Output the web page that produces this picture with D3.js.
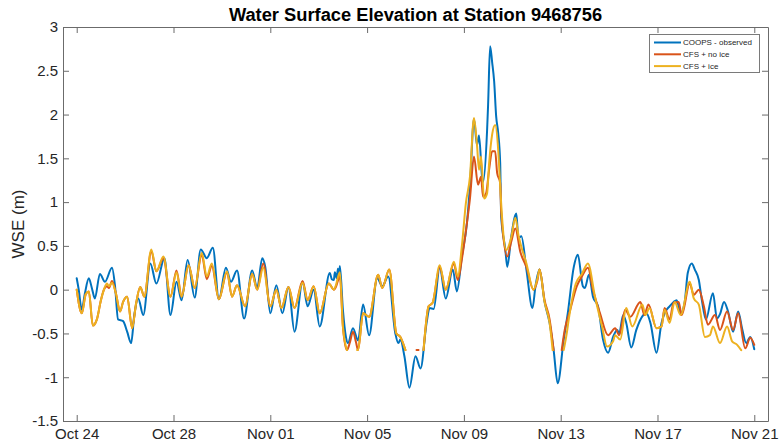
<!DOCTYPE html>
<html>
<head>
<meta charset="utf-8">
<script src="https://cdn.jsdelivr.net/npm/d3@7"></script>
<style>
  html, body { margin: 0; padding: 0; background: #fff; }
  svg { display: block; font-family: "Liberation Sans", Arial, Helvetica, sans-serif; }
</style>
</head>
<body>
<svg id="chart" width="781" height="446"></svg>
<script>
// ---- Data (hours since Oct 24 00:00, WSE in metres) ----
const baseDate = new Date(2019, 9, 24, 0, 0, 0);
const tickDates = ["Oct 24", "Oct 28", "Nov 01", "Nov 05", "Nov 09", "Nov 13", "Nov 17", "Nov 21"];
const tickDayOffsets = [0, 4, 8, 12, 16, 20, 24, 28];
const yTicks = [-1.5, -1, -0.5, 0, 0.5, 1, 1.5, 2, 2.5, 3];
const seriesNames = ["COOPS - observed", "CFS + no ice", "CFS + ice"];
const seriesColors = ["#0072BD", "#D95319", "#EDB120"];

const observed = [[0,0.13],[2,0.0],[5,-0.23],[8,-0.05],[12,0.13],[15,0.02],[18,-0.10],[23,0.18],[28,0.09],[35,0.25],
[38,0.04],[41,-0.34],[46,-0.36],[50,-0.48],[54,-0.61],[57,-0.30],[61,-0.10],[66,-0.29],[73,0.30],[79,0.07],
[87,0.36],[93,-0.29],[99,0.09],[104,-0.12],[110,0.34],[117,-0.09],[123,0.46],[129,0.36],[135,0.48],[141,-0.11],
[148,0.25],[153,0.09],[159,0.22],[166,-0.33],[174,0.22],[179,0.02],[184,0.36],[187,0.26],[192,-0.27],[198,0.05],
[204,-0.27],[210,0.03],[216,-0.48],[224,0.09],[229,-0.19],[235,0.00],[241,-0.42],[251,0.19],[253,0.12],[255,0.11],
[256,0.20],[258,0.13],[259,0.24],[260,0.15],[261,0.27],[264,-0.23],[267,-0.54],[269,-0.61],[274,-0.44],[279,-0.58],
[284,-0.17],[290,-0.52],[298,0.13],[303,0.04],[309,0.15],[316,-0.50],[319,-0.61],[321,-0.57],[325,-0.76],[330,-1.12],
[336,-0.76],[341,-0.90],[347,-0.38],[350,-0.21],[354,-0.22],[360,0.25],[366,-0.10],[373,0.23],[377,-0.02],[382,0.38],
[387,0.76],[390,1.18],[394,1.95],[397,1.65],[399,1.76],[402,1.29],[403,1.23],[407,1.82],[408,2.11],[410,2.78],
[412,2.60],[414,2.38],[416,1.98],[418,1.79],[420,1.44],[421,0.83],[425,0.47],[427,0.26],[431,0.61],[436,0.87],
[438,0.59],[441,0.61],[446,0.23],[452,-0.21],[455,0.04],[459,0.23],[464,-0.14],[469,-0.38],[473,-0.69],[477,-1.07],
[483,-0.57],[487,-0.27],[493,0.26],[497,0.40],[502,0.04],[504,0.02],[508,0.17],[512,-0.08],[517,-0.19],[522,-0.57],
[527,-0.72],[532,-0.54],[536,-0.46],[538,-0.50],[542,-0.29],[545,-0.38],[550,-0.66],[555,-0.46],[562,-0.29],[565,-0.27],
[569,-0.38],[575,-0.72],[580,-0.38],[583,-0.27],[588,-0.19],[592,-0.14],[595,-0.12],[599,-0.27],[603,-0.14],[606,0.19],
[610,0.30],[613,0.23],[617,0.11],[620,-0.12],[624,-0.34],[631,-0.04],[635,-0.33],[638,-0.28],[642,-0.14],[646,-0.25],
[651,-0.48],[656,-0.25],[660,-0.45],[664,-0.61],[668,-0.54],[672,-0.68]];

const cfsNoIce = [[0,0.0],[5,-0.27],[9,-0.05],[12,-0.02],[16,-0.41],[20,-0.34],[24,-0.12],[27,0.0],[30,0.04],[32,0.02],
[35,0.10],[39,-0.05],[43,-0.25],[46,-0.14],[50,-0.08],[55,-0.44],[59,-0.15],[63,0.03],[67,-0.08],[74,0.44],
[79,0.21],[86,0.36],[93,-0.08],[99,0.22],[104,-0.08],[111,0.28],[117,0.02],[124,0.40],[129,0.12],[134,0.27],
[141,-0.11],[149,0.20],[154,-0.08],[159,0.05],[167,-0.19],[174,0.18],[179,0.00],[185,0.30],[192,-0.19],[198,0.00],
[203,-0.21],[210,0.03],[216,-0.21],[224,0.10],[229,-0.12],[235,0.04],[241,-0.27],[250,0.07],[255,0.0],[257,0.03],
[261,0.15],[264,-0.42],[268,-0.69],[271,-0.60],[274,-0.48],[277,-0.60],[279,-0.69],[284,-0.27],[290,-0.31],[299,0.17],
[303,0.02],[310,0.23],[317,-0.50],[321,-0.54],[326,-0.69],[327,null],[337,-0.69],[339,-0.69],[340,null],[344,-0.69],
[349,-0.19],[353,-0.15],[360,0.26],[366,0.0],[374,0.30],[378,0.11],[382,0.35],[387,0.76],[390,1.04],[394,1.52],
[398,1.20],[401,1.29],[403,1.06],[406,1.10],[409,1.37],[412,1.58],[415,1.58],[417,1.33],[420,1.22],[421,0.89],
[427,0.38],[431,0.55],[435,0.70],[440,0.43],[446,0.26],[453,0.0],[457,0.11],[459,0.23],[464,-0.12],[469,-0.34],
[473,-0.69],[474,null],[481,-0.69],[484,-0.46],[489,-0.25],[496,0.04],[501,0.15],[507,0.25],[512,0.0],[519,-0.27],
[527,-0.52],[534,-0.44],[538,-0.52],[544,-0.23],[549,-0.31],[559,-0.14],[563,-0.29],[567,-0.17],[575,-0.44],[580,-0.42],
[583,-0.21],[588,-0.34],[592,-0.15],[597,-0.14],[600,-0.29],[608,0.07],[612,-0.06],[617,0.0],[622,-0.19],[626,-0.40],
[633,-0.29],[638,-0.46],[645,-0.25],[651,-0.46],[656,-0.27],[663,-0.67],[668,-0.55],[672,-0.63]];

const cfsIce = [[0,0.0],[5,-0.27],[9,-0.05],[12,-0.02],[16,-0.41],[20,-0.34],[24,-0.12],[27,0.0],[30,0.07],[32,0.04],
[35,0.08],[39,-0.05],[43,-0.25],[46,-0.14],[50,-0.08],[55,-0.44],[59,-0.15],[63,0.03],[67,-0.08],[74,0.46],
[79,0.21],[86,0.38],[93,-0.08],[99,0.20],[104,-0.08],[111,0.28],[117,0.02],[124,0.42],[129,0.15],[134,0.30],
[141,-0.11],[149,0.21],[154,-0.08],[159,0.05],[167,-0.19],[174,0.18],[179,0.00],[185,0.25],[192,-0.19],[198,0.00],
[203,-0.21],[210,0.03],[216,-0.21],[224,0.08],[229,-0.12],[235,0.04],[241,-0.27],[250,0.07],[255,0.0],[257,0.05],
[261,0.20],[264,-0.42],[268,-0.69],[269,null],[278,-0.69],[279,-0.69],[284,-0.27],[290,-0.31],[299,0.17],[303,0.02],
[310,0.23],[317,-0.50],[321,-0.54],[326,-0.69],[327,null],[344,-0.69],[349,-0.19],[353,-0.15],[360,0.28],[366,0.0],
[374,0.32],[378,0.15],[382,0.50],[386,0.99],[390,1.29],[394,1.96],[397,1.65],[399,1.37],[401,1.52],[404,1.04],
[407,1.10],[409,1.44],[412,1.77],[415,1.88],[418,1.60],[420,1.18],[422,0.80],[426,0.45],[431,0.60],[435,0.82],
[438,0.63],[440,0.53],[446,0.30],[453,0.0],[457,0.13],[459,0.23],[464,-0.14],[469,-0.38],[472,-0.69],[473,null],
[483,-0.69],[486,-0.50],[488,-0.34],[495,0.07],[501,0.18],[507,0.30],[514,-0.08],[521,-0.42],[526,-0.65],[532,-0.59],
[534,-0.52],[539,-0.57],[545,-0.21],[551,-0.42],[561,-0.17],[564,-0.29],[568,-0.21],[575,-0.44],[580,-0.42],[583,-0.23],
[588,-0.38],[593,-0.14],[599,-0.29],[608,0.09],[612,-0.10],[617,-0.17],[623,-0.54],[628,-0.52],[631,-0.42],[638,-0.61],
[645,-0.42],[650,-0.59],[655,-0.63],[659,-0.69]];

const xDomainHours = [-13.6, 685.6];
const yDomain = [-1.5, 3];

// ---- Layout ----
const svg = d3.select("#chart");
const L = 63, R = 768, T = 27, B = 421;
const hourToDate = h => d3.timeMinute.offset(baseDate, Math.round(h * 60));

const x = d3.scaleTime().domain(xDomainHours.map(hourToDate)).range([L, R]);
const y = d3.scaleLinear().domain(yDomain).range([B, T]);

const tickVals = tickDayOffsets.map(d => d3.timeDay.offset(baseDate, d));
const axisColor = "#6b6b6b";

// Lines
const clipId = "plotclip";
svg.append("clipPath").attr("id", clipId).append("rect")
  .attr("x", L).attr("y", T).attr("width", R - L).attr("height", B - T);

const line = d3.line()
  .defined(d => d[1] !== null)
  .x(d => x(hourToDate(d[0])))
  .y(d => y(d[1]))
  .curve(d3.curveMonotoneX);

const allSeries = [observed, cfsNoIce, cfsIce];
const gLines = svg.append("g").attr("clip-path", `url(#${clipId})`);
allSeries.forEach((s, i) => {
  gLines.append("path")
    .attr("d", line(s))
    .attr("fill", "none")
    .attr("stroke", seriesColors[i])
    .attr("stroke-width", 2)
    .attr("stroke-linejoin", "round")
    .attr("stroke-linecap", "round");
});

// Axes
const fmtDate = d => tickDates[tickVals.findIndex(t => +t === +d)];
const gx = svg.append("g").attr("transform", `translate(0,${B})`)
  .call(d3.axisBottom(x).tickValues(tickVals).tickFormat(fmtDate).tickSizeInner(-6).tickSizeOuter(0).tickPadding(7));
const gxt = svg.append("g").attr("transform", `translate(0,${T})`)
  .call(d3.axisTop(x).tickValues(tickVals).tickFormat("").tickSizeInner(-6).tickSizeOuter(0));
const gy = svg.append("g").attr("transform", `translate(${L},0)`)
  .call(d3.axisLeft(y).tickValues(yTicks).tickFormat(d => String(d)).tickSizeInner(-6).tickSizeOuter(0).tickPadding(5));
const gyr = svg.append("g").attr("transform", `translate(${R},0)`)
  .call(d3.axisRight(y).tickValues(yTicks).tickFormat("").tickSizeInner(-6).tickSizeOuter(0));

[gx, gxt, gy, gyr].forEach(g => {
  g.select(".domain").attr("stroke", axisColor).attr("stroke-width", 1);
  g.selectAll(".tick line").attr("stroke", axisColor).attr("stroke-width", 1);
  g.selectAll(".tick text").attr("fill", "#262626").style("font-size", "15px")
    .style("font-family", '"Liberation Sans", Arial, Helvetica, sans-serif');
});

// Title
svg.append("text")
  .attr("x", (L + R) / 2).attr("y", 20.5)
  .attr("text-anchor", "middle")
  .style("font-size", "18.3px").style("font-weight", "bold").attr("fill", "#000")
  .text("Water Surface Elevation at Station 9468756");

// Y label
svg.append("text")
  .attr("transform", `translate(24,${(T + B) / 2}) rotate(-90)`)
  .attr("text-anchor", "middle")
  .style("font-size", "17px").attr("fill", "#262626")
  .text("WSE (m)");

// Legend
const lg = svg.append("g").attr("transform", "translate(649.5,34.5)");
lg.append("rect").attr("width", 110).attr("height", 38)
  .attr("fill", "#fff").attr("stroke", "#7a7a7a").attr("stroke-width", 1);
seriesNames.forEach((name, i) => {
  const yy = 8 + i * 11.8;
  lg.append("line").attr("x1", 4.5).attr("x2", 31.5).attr("y1", yy).attr("y2", yy)
    .attr("stroke", seriesColors[i]).attr("stroke-width", 2);
  lg.append("text").attr("x", 33.5).attr("y", yy).attr("dy", "0.35em")
    .style("font-size", "8px").attr("fill", "#262626").text(name);
});
</script>
</body>
</html>
